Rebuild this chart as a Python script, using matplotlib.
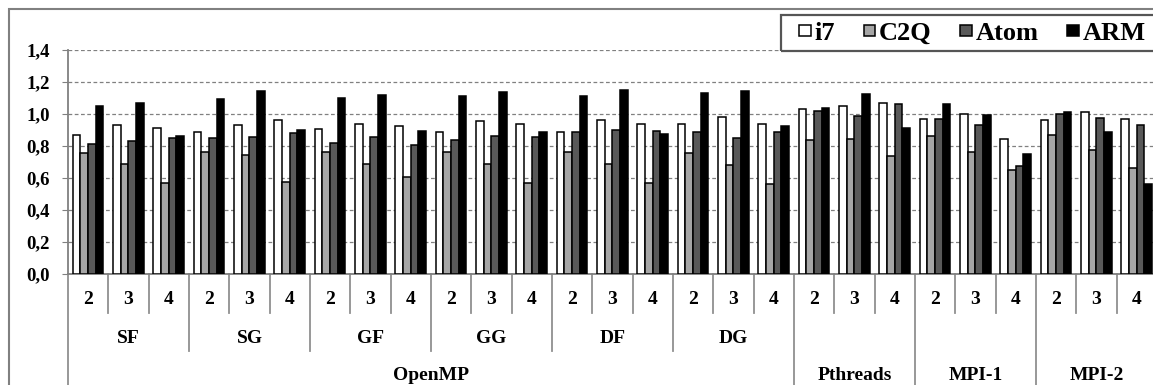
import numpy as np
import matplotlib.pyplot as plt
from matplotlib.patches import Rectangle
from matplotlib.ticker import FuncFormatter, MultipleLocator

# speedup values, one per (variant, thread count): 27 clusters
threads = ["2", "3", "4"]
variants = ["SF", "SG", "GF", "GG", "DF", "DG"]
sections = ["OpenMP", "Pthreads", "MPI-1", "MPI-2"]
section_groups = [6, 1, 1, 1]   # how many 3-thread groups each section spans

i7 = [0.87, 0.93, 0.915, 0.89, 0.93, 0.965, 0.905, 0.94, 0.925,
      0.885, 0.955, 0.94, 0.89, 0.96, 0.935, 0.94, 0.98, 0.94,
      1.03, 1.05, 1.07, 0.97, 1.00, 0.845, 0.965, 1.01, 0.97]
c2q = [0.755, 0.69, 0.57, 0.76, 0.745, 0.575, 0.76, 0.69, 0.605,
       0.76, 0.69, 0.57, 0.76, 0.69, 0.57, 0.755, 0.68, 0.565,
       0.84, 0.845, 0.735, 0.865, 0.76, 0.65, 0.87, 0.775, 0.66]
atom = [0.815, 0.83, 0.85, 0.85, 0.855, 0.88, 0.82, 0.855, 0.805,
        0.835, 0.865, 0.855, 0.89, 0.90, 0.895, 0.885, 0.85, 0.89,
        1.02, 0.985, 1.065, 0.97, 0.93, 0.675, 1.00, 0.975, 0.93]
arm = [1.05, 1.07, 0.865, 1.095, 1.145, 0.90, 1.10, 1.12, 0.895,
       1.11, 1.14, 0.885, 1.115, 1.15, 0.875, 1.13, 1.145, 0.925,
       1.04, 1.125, 0.915, 1.06, 0.995, 0.75, 1.015, 0.89, 0.565]

series = [("i7", i7, "white"), ("C2Q", c2q, "#a6a6a6"),
          ("Atom", atom, "#595959"), ("ARM", arm, "black")]

plt.rcParams['font.family'] = ['Liberation Serif', 'DejaVu Serif']
plt.rcParams['font.weight'] = 'bold'

W, H = 1153, 385
fig = plt.figure(figsize=(W / 100, H / 100), dpi=100)
# axes in pixel terms: left 68, right ~1157, top 50, bottom 274
ax = fig.add_axes([68 / W, (H - 274) / H, 1089 / W, 224 / H])

n = len(i7)
x0 = np.arange(n)
bw = 0.19
for k, (name, vals, col) in enumerate(series):
    ax.bar(x0 + 0.114 + bw * (k + 0.5), vals, width=bw, color=col,
           edgecolor="black", linewidth=1.1, label=name, zorder=3)

ax.set_xlim(0, n)
ax.set_ylim(0, 1.4)
ax.yaxis.set_major_locator(MultipleLocator(0.2))
ax.yaxis.set_major_formatter(FuncFormatter(lambda v, p: f"{v:.1f}".replace(".", ",")))
ax.tick_params(axis="y", length=4.3, color="#808080", labelsize=13.5, pad=9)
ax.tick_params(axis="x", bottom=False, labelbottom=False)
for t in ax.get_yticklabels():
    t.set_fontweight("bold")
ax.grid(axis="y", color="#808080", linestyle=(0, (3, 2)), linewidth=0.9, zorder=0)
for s in ["top", "right"]:
    ax.spines[s].set_visible(False)
for s in ["left", "bottom"]:
    ax.spines[s].set_color("#808080")
    ax.spines[s].set_linewidth(1.3)

# multi-level category axis below the plot
tr = ax.get_xaxis_transform()
line_kw = dict(color="#909090", linewidth=1.3, transform=tr, clip_on=False)
y_short, y_mid, y_long = -0.173, -0.342, -0.7
lab_kw = dict(transform=tr, ha="center", va="center", fontsize=14, fontweight="bold")

for c in range(n):
    ax.text(c + 0.5, -0.116, threads[c % 3], **lab_kw)
    if c % 3 != 0:
        ax.plot([c, c], [0, y_short], **line_kw)

section_edges = np.cumsum([0] + section_groups) * 3
for g, name in enumerate(variants):
    ax.text(g * 3 + 1.5, -0.29, name, **lab_kw)
    if g > 0:
        ax.plot([g * 3, g * 3], [0, y_mid], **line_kw)

for s, name in enumerate(sections):
    a, b = section_edges[s], section_edges[s + 1]
    ax.text((a + b) / 2, -0.455, name, **lab_kw)
    ax.plot([a, a], [0, y_long], **line_kw)

# frame around the whole chart
fig.patches.append(Rectangle((9 / W, -0.1), 1.1, (H - 9.5) / H + 0.1,
                             transform=fig.transFigure, fill=False,
                             edgecolor="#808080", linewidth=1.5))

# legend box, open on the right edge
fig.patches.append(Rectangle((781 / W, (H - 51) / H), 0.4, 36 / H,
                             transform=fig.transFigure, fill=False,
                             edgecolor="#555555", linewidth=1.6, zorder=5))
leg = fig.legend(loc="center left", bbox_to_anchor=(799 / W, 1 - 33.5 / H), ncol=4,
                 frameon=False, prop={"size": 19, "weight": "bold"},
                 handlelength=0.45, handleheight=0.32, handletextpad=0.12,
                 columnspacing=1.1, borderpad=0, borderaxespad=0)

fig.savefig("out.png", dpi=100)
